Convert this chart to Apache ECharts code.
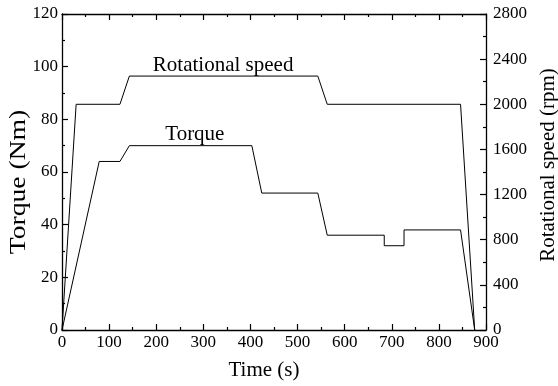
<!DOCTYPE html>
<html>
<head>
<meta charset="utf-8">
<script src="https://cdn.jsdelivr.net/npm/echarts@6/dist/echarts.min.js"></script>
<style>
  html, body { margin: 0; padding: 0; background: #fff; }
  #main { width: 558px; height: 386px; }
</style>
</head>
<body>
<div id="main"></div>
<script>
// time (s) / torque (Nm)
const torqueTime = [0, 79, 123, 143, 403, 424, 543, 563, 684, 684, 726, 726, 846, 876]
const torqueVals = [0, 64, 64, 70, 70, 52, 52, 36, 36, 32, 32, 38, 38, 0]
// time (s) / rotational speed (rpm)
const speedTime = [0, 30, 123, 143, 543, 563, 846, 876]
const speedVals = [0, 2000, 2000, 2250, 2250, 2000, 2000, 0]

const xTicks = { min: 0, max: 900, interval: 100 }
const fontFam = '"Liberation Serif", "Times New Roman", serif'

const chart = echarts.init(document.getElementById('main'))

const tickStyle = { color: '#000', width: 1.2 }
const axisBase = {
  axisLine: { show: true, onZero: false, lineStyle: { color: '#000', width: 1.3 } },
  axisTick: { show: true, inside: true, length: 6, lineStyle: tickStyle },
  minorTick: { show: true, splitNumber: 2, length: 3, lineStyle: tickStyle },
  splitLine: { show: false },
  axisLabel: { color: '#000', fontFamily: fontFam, fontSize: 17, formatter: (v) => String(v) },
  nameTextStyle: { color: '#000', fontFamily: fontFam, fontSize: 21 }
}

// text labels placed in data coordinates
const labelStyle = (text) => ({
  symbol: 'rect',
  symbolSize: 1,
  itemStyle: { color: 'rgba(0,0,0,0)' },
  label: { show: true, position: 'inside', formatter: text, color: '#000', fontFamily: fontFam, fontSize: 21 }
})

const option = {
  animation: false,
  grid: { left: 62, right: 72, top: 14, bottom: 56, outerBoundsMode: 'none', containLabel: false },
  // left title is drawn a bit stretched, like in the source figure
  graphic: [
    {
      type: 'text',
      x: 19,
      y: 182,
      rotation: Math.PI / 2,
      scaleX: 1.2,
      style: {
        text: 'Torque (Nm)',
        fill: '#000',
        fontFamily: 'Liberation Serif',
        fontSize: 23,
        fontWeight: 'normal',
        align: 'center',
        verticalAlign: 'middle'
      }
    }
  ],
  xAxis: [
    {
      ...axisBase,
      type: 'value',
      position: 'bottom',
      min: xTicks.min, max: xTicks.max, interval: xTicks.interval,
      name: 'Time (s)',
      nameLocation: 'middle',
      nameGap: 30,
      nameTextStyle: { ...axisBase.nameTextStyle, padding: [0, 20, 0, 0] },
      axisLabel: { ...axisBase.axisLabel, margin: 4 }
    },
    {
      ...axisBase,
      type: 'value',
      position: 'top',
      min: xTicks.min, max: xTicks.max, interval: xTicks.interval,
      axisLabel: { show: false }
    }
  ],
  yAxis: [
    {
      ...axisBase,
      type: 'value',
      position: 'left',
      min: 0, max: 120, interval: 20,
      axisLabel: { ...axisBase.axisLabel, margin: 4 }
    },
    {
      ...axisBase,
      type: 'value',
      position: 'right',
      min: 0, max: 2800, interval: 400,
      name: 'Rotational speed (rpm)',
      nameLocation: 'middle',
      nameRotate: 90,
      nameGap: 48,
      nameTextStyle: { ...axisBase.nameTextStyle, padding: [0, 0, 0, 14] },
      axisLabel: { ...axisBase.axisLabel, margin: 7 }
    }
  ],
  series: [
    {
      type: 'line',
      xAxisIndex: 0,
      yAxisIndex: 0,
      data: torqueTime.map((t, i) => [t, torqueVals[i]]),
      symbol: 'none',
      lineStyle: { color: '#000', width: 1 },
      markPoint: { ...labelStyle('Torque'), data: [{ coord: [282, 74.4] }] }
    },
    {
      type: 'line',
      xAxisIndex: 0,
      yAxisIndex: 1,
      data: speedTime.map((t, i) => [t, speedVals[i]]),
      symbol: 'none',
      lineStyle: { color: '#000', width: 1 },
      markPoint: { ...labelStyle('Rotational speed'), data: [{ coord: [342, 2340] }] }
    }
  ]
}

chart.setOption(option)
</script>
</body>
</html>
